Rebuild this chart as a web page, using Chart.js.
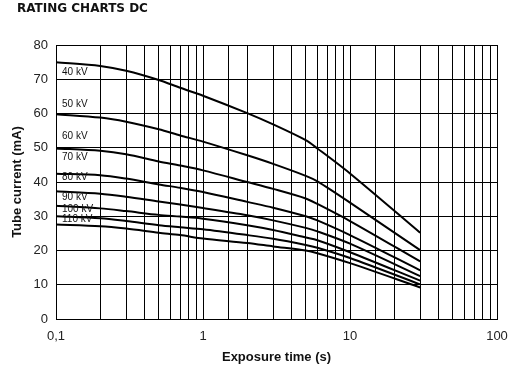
<!DOCTYPE html>
<html lang="en">
<head>
  <meta charset="UTF-8" />
  <title>Rating charts DC</title>
  <script src="https://cdn.jsdelivr.net/npm/chart.js"></script>
  <style>
    body { margin: 0; background: #fff; }
    .wrap { position: relative; width: 523px; height: 370px; }
    #title {
      position: absolute; left: 17px; top: 1px;
      font: bold 12px/14px "DejaVu Sans", sans-serif; color: #111;
    }
    canvas { position: absolute; left: 0; top: 0; }
  </style>
</head>
<body>
  <div class="wrap">
    <canvas id="rating" width="523" height="370"></canvas>
    <div id="title">RATING CHARTS DC</div>
  </div>

  <script>
    // exposure time (s)
    const times = [0.1, 0.2, 0.3, 0.5, 0.7, 1, 2, 3, 5, 6, 10, 30];
    const voltages = ['40 kV', '50 kV', '60 kV', '70 kV', '80 kV', '90 kV', '100 kV', '110 kV'];

    // tube current (mA) per tube voltage
    const kv40  = [75.0, 73.9, 72.5, 69.8, 67.5, 65.2, 60.1, 56.8, 52.2, 49.8, 42.5, 25.2];
    const kv50  = [59.8, 58.8, 57.6, 55.4, 53.6, 51.8, 47.8, 45.3, 41.8, 40.2, 34.0, 20.1];
    const kv60  = [49.8, 49.1, 48.1, 46.0, 44.8, 43.4, 40.0, 38.0, 35.2, 33.6, 28.6, 16.8];
    const kv70  = [42.4, 42.0, 41.0, 39.3, 38.3, 37.1, 34.2, 32.5, 30.0, 28.8, 24.5, 14.2];
    const kv80  = [37.3, 36.6, 35.7, 34.3, 33.4, 32.4, 30.3, 28.8, 26.6, 25.6, 22.0, 12.5];
    const kv90  = [33.1, 32.3, 31.5, 30.4, 29.9, 29.3, 27.4, 26.0, 23.8, 23.0, 19.5, 11.2];
    const kv100 = [30.0, 29.4, 28.6, 27.4, 26.8, 26.2, 24.5, 23.4, 21.6, 20.8, 17.8, 10.1];
    const kv110 = [27.6, 27.1, 26.4, 25.2, 24.5, 23.5, 22.2, 21.2, 20.0, 19.2, 16.3, 9.2];

    const series = [kv40, kv50, kv60, kv70, kv80, kv90, kv100, kv110];

    const yTicks = [0, 10, 20, 30, 40, 50, 60, 70, 80];
    const xLabelTicks = [0.1, 1, 10, 100];

    // the kV names sit next to the start of each curve
    const curveLabels = {
      id: 'curveLabels',
      afterDatasetsDraw(chart, args, opts) {
        const { ctx, chartArea } = chart;
        const y = chart.scales.y;
        ctx.save();
        ctx.font = '10px "Liberation Sans Narrow", "Liberation Sans", sans-serif';
        ctx.fillStyle = '#111';
        ctx.textBaseline = 'middle';
        chart.data.datasets.forEach((ds, i) => {
          const py = y.getPixelForValue(ds.data[0].y) + opts.offsets[i];
          ctx.fillText(ds.label, chartArea.left + 6, py);
        });
        ctx.restore();
      }
    };

    const datasets = series.map((vals, i) => ({
      label: voltages[i],
      data: vals.map((v, j) => ({ x: times[j], y: v })),
      borderColor: '#000',
      borderWidth: 2,
      pointRadius: 0,
      tension: 0.3,
      fill: false
    }));

    const axisFont = '"Liberation Sans", Arial, sans-serif';

    new Chart(document.getElementById('rating'), {
      type: 'line',
      data: { datasets },
      plugins: [curveLabels],
      options: {
        responsive: false,
        animation: false,
        layout: { padding: { top: 45, right: 26, left: 0, bottom: 0 } },
        plugins: {
          legend: { display: false },
          tooltip: { enabled: false },
          curveLabels: { offsets: [10, -10, -12, -17, -14, -8, -7, -5] }
        },
        scales: {
          x: {
            type: 'logarithmic',
            min: 0.1,
            max: 100,
            afterFit: s => { s.height = 51; },
            grid: { color: '#000', lineWidth: 1, drawTicks: false },
            border: { color: '#000', width: 1 },
            ticks: {
              autoSkip: false,
              maxRotation: 0,
              padding: 10,
              color: '#222',
              font: { family: axisFont, size: 13 },
              callback: v => xLabelTicks.some(t => Math.abs(t - v) < 1e-9)
                ? String(v).replace('.', ',') : ''
            },
            title: {
              display: true,
              text: 'Exposure time (s)',
              color: '#111',
              padding: { top: 0, bottom: 5 },
              font: { family: axisFont, size: 13, weight: 'bold' }
            }
          },
          y: {
            min: yTicks[0],
            max: yTicks[yTicks.length - 1],
            afterFit: s => { s.width = 56; },
            afterBuildTicks: s => { s.ticks = yTicks.map(v => ({ value: v })); },
            grid: { color: '#000', lineWidth: 1, drawTicks: false },
            border: { color: '#000', width: 1 },
            ticks: {
              padding: 8,
              color: '#222',
              font: { family: axisFont, size: 13 }
            },
            title: {
              display: true,
              text: 'Tube current (mA)',
              color: '#111',
              padding: { top: 10, bottom: 0 },
              font: { family: axisFont, size: 13, weight: 'bold' }
            }
          }
        }
      }
    });
  </script>
</body>
</html>
